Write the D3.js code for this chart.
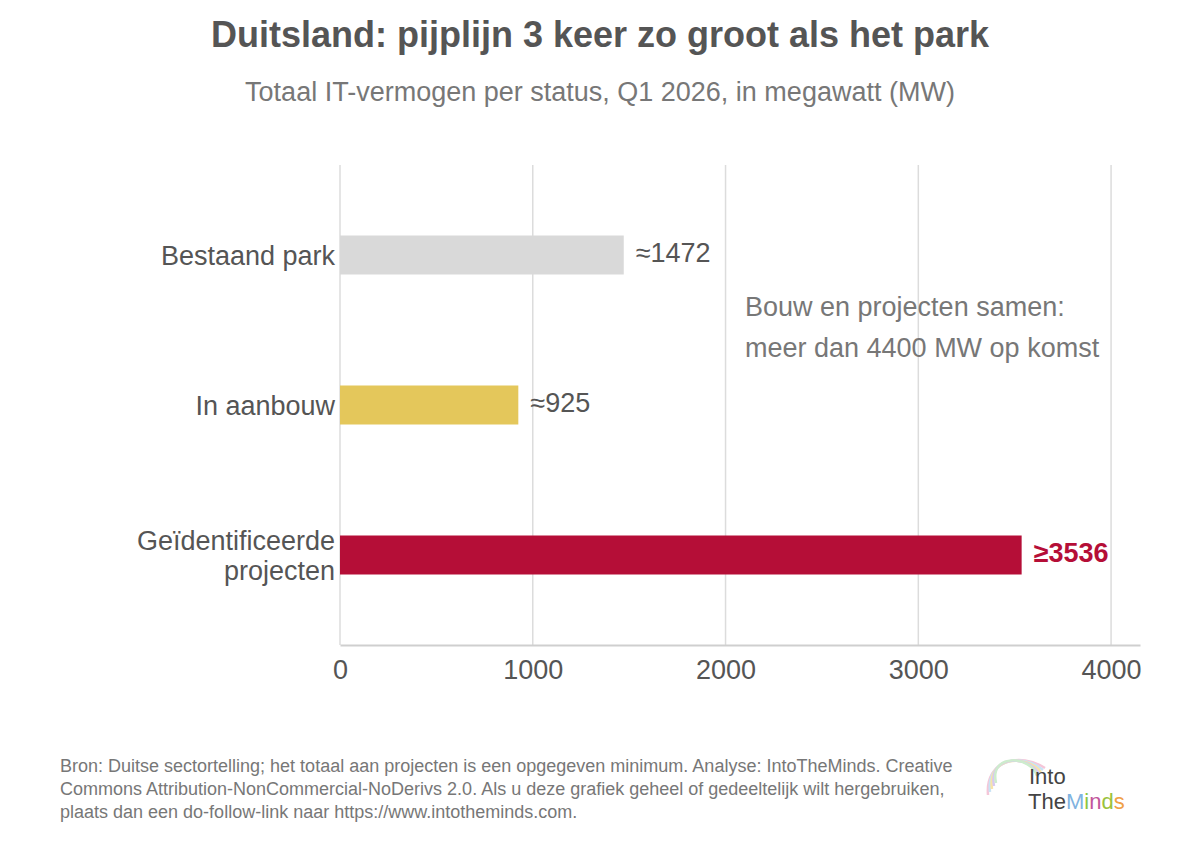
<!DOCTYPE html>
<html>
<head>
<meta charset="utf-8">
<script src="https://cdn.jsdelivr.net/npm/d3@7"></script>
<style>
  body { margin: 0; background: #fff; }
  svg text { font-family: "Liberation Sans", Arial, sans-serif; }
</style>
</head>
<body>
<script>
// chart data
const categories = ["Bestaand park", "In aanbouw", "Geïdentificeerde projecten"];
const values = [1472, 925, 3536];
const valueLabels = ["≈1472", "≈925", "≥3536"];
const barColors = ["#d9d9d9", "#e4c75b", "#b50e37"];
const tickValues = [0, 1000, 2000, 3000, 4000];

const width = 1200, height = 841;

const svg = d3.select("body").append("svg")
    .attr("width", width)
    .attr("height", height);

// titles
svg.append("text")
    .attr("x", 600).attr("y", 47)
    .attr("text-anchor", "middle")
    .attr("font-size", 36).attr("font-weight", "bold")
    .attr("fill", "#555")
    .text("Duitsland: pijplijn 3 keer zo groot als het park");

svg.append("text")
    .attr("x", 600).attr("y", 101)
    .attr("text-anchor", "middle")
    .attr("font-size", 27)
    .attr("fill", "#777")
    .text("Totaal IT-vermogen per status, Q1 2026, in megawatt (MW)");

// scales
let xScale = d3.scaleLinear()
    .domain([0, 4150])
    .range([340, 1140]);

let yScale = d3.scaleBand()
    .domain(categories)
    .range([180, 630])
    .paddingInner(0.74)
    .paddingOuter(0.37);

// grid lines
svg.append("g")
    .selectAll("line")
    .data(tickValues)
    .join("line")
    .attr("x1", d => xScale(d)).attr("x2", d => xScale(d))
    .attr("y1", 165).attr("y2", 645)
    .attr("stroke", "#dcdcdc")
    .attr("stroke-width", 1.5);

// x axis
let xAxis = svg.append("g")
    .attr("transform", "translate(0,645)")
    .call(d3.axisBottom(xScale).tickValues(tickValues).tickFormat(d3.format("d")).tickSize(0).tickPadding(15));
xAxis.select(".domain").attr("stroke", "#cfcfcf").attr("stroke-width", 2);
xAxis.selectAll("text")
    .attr("font-size", 27)
    .attr("fill", "#555")
    .attr("font-family", "Liberation Sans, Arial, sans-serif");

// bars
svg.append("g")
    .selectAll("rect")
    .data(values)
    .join("rect")
    .attr("x", xScale(0))
    .attr("y", (d, i) => yScale(categories[i]))
    .attr("width", d => xScale(d) - xScale(0))
    .attr("height", yScale.bandwidth())
    .attr("fill", (d, i) => barColors[i]);

// value labels
svg.append("g")
    .selectAll("text")
    .data(values)
    .join("text")
    .attr("x", d => xScale(d) + 12)
    .attr("y", (d, i) => yScale(categories[i]) + yScale.bandwidth() / 2 + 7)
    .attr("font-size", 27)
    .attr("font-weight", (d, i) => i === 2 ? "bold" : "normal")
    .attr("fill", (d, i) => i === 2 ? "#b50e37" : "#555")
    .text((d, i) => valueLabels[i]);

// category labels (wrap the long one)
const catWrap = { "Geïdentificeerde projecten": ["Geïdentificeerde", "projecten"] };
categories.forEach(c => {
    const lines = catWrap[c] || [c];
    const cy = yScale(c) + yScale.bandwidth() / 2;
    const t = svg.append("text")
        .attr("text-anchor", "end")
        .attr("font-size", 27)
        .attr("fill", "#555");
    lines.forEach((l, j) => {
        t.append("tspan")
            .attr("x", 335)
            .attr("y", cy + 10 + (j - (lines.length - 1) / 2) * 30)
            .text(l);
    });
});

// annotation
svg.append("text")
    .attr("font-size", 27).attr("fill", "#777")
    .selectAll("tspan")
    .data(["Bouw en projecten samen:", "meer dan 4400 MW op komst"])
    .join("tspan")
    .attr("x", 745)
    .attr("y", (d, i) => 316 + i * 41)
    .text(d => d);

// footer
svg.append("text")
    .attr("font-size", 18).attr("fill", "#777")
    .selectAll("tspan")
    .data([
        "Bron: Duitse sectortelling; het totaal aan projecten is een opgegeven minimum. Analyse: IntoTheMinds. Creative",
        "Commons Attribution-NonCommercial-NoDerivs 2.0. Als u deze grafiek geheel of gedeeltelijk wilt hergebruiken,",
        "plaats dan een do-follow-link naar https://www.intotheminds.com."
    ])
    .join("tspan")
    .attr("x", 60)
    .attr("y", (d, i) => 772 + i * 23)
    .text(d => d);

// logo
const logo = svg.append("g");
const swirl = ["#f5c6d8", "#c9e3f5", "#f8e3a8", "#d8c8ef", "#cdeccd"];
swirl.forEach((c, i) => {
    logo.append("path")
        .attr("d", `M${988 + i * 2},${795 - i * 3} C${985 + i},${760 - i * 2} ${1020 + i * 3},${752 + i} ${1045 - i * 2},${768 + i * 2}`)
        .attr("fill", "none")
        .attr("stroke", c)
        .attr("stroke-width", 2.5);
});
logo.append("text")
    .attr("x", 1029).attr("y", 784)
    .attr("font-size", 22).attr("fill", "#444")
    .text("Into");
const logo2 = logo.append("text")
    .attr("x", 1028).attr("y", 809)
    .attr("font-size", 22);
[["The", "#444"], ["M", "#7fb3e0"], ["i", "#8cc63f"], ["n", "#c2569a"], ["d", "#9bc23c"], ["s", "#f0a046"]]
    .forEach(p => logo2.append("tspan").attr("fill", p[1]).text(p[0]));
</script>
</body>
</html>
